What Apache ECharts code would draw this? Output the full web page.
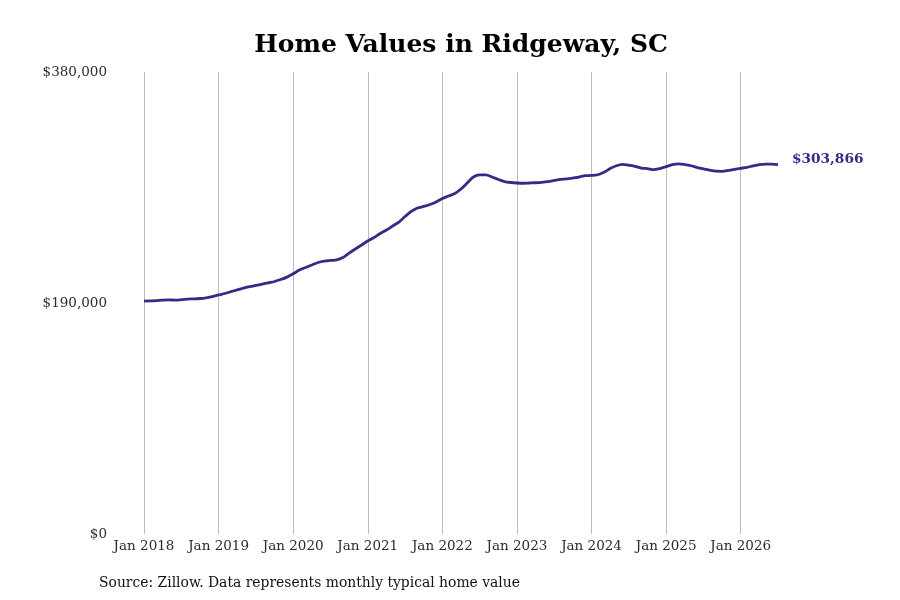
<!DOCTYPE html>
<html>
<head>
<meta charset="utf-8">
<script src="https://cdn.jsdelivr.net/npm/echarts@6/dist/echarts.min.js"></script>
<style>
html, body { margin: 0; padding: 0; background: #fff; }
#main { width: 900px; height: 600px; }
</style>
</head>
<body>
<div id="main"></div>
<script>
var chart = echarts.init(document.getElementById('main'));

// months Jan 2018 .. Jul 2026
var monthNames = ['Jan','Feb','Mar','Apr','May','Jun','Jul','Aug','Sep','Oct','Nov','Dec'];
var months = [];
for (var y = 2018; y <= 2026; y++) {
    for (var m = 0; m < 12; m++) {
        if (y === 2026 && m > 6) break;
        months.push(monthNames[m] + ' ' + y);
    }
}

// typical home value
var values = [
    // 2018
    191600, 191700, 192000, 192400, 192500, 192400, 192700, 193200, 193400, 193700, 194300, 195200,
    // 2019
    196600, 197800, 199300, 200800, 202200, 203400, 204500, 205500, 206600, 207700, 209300, 211300,
    // 2020
    214000, 217100, 219200, 221300, 223300, 224500, 225000, 225400, 227400, 231100, 234400, 237700,
    // 2021
    241000, 243900, 247200, 250000, 253300, 256600, 261100, 265300, 268100, 269400, 271000, 273100,
    // 2022
    276000, 278000, 280100, 283800, 288700, 293600, 295400, 295400, 293600, 291600, 289900, 289100,
    // 2023
    288700, 288500, 288700, 288900, 289300, 289900, 290800, 291700, 292100, 292800, 293600, 294700,
    // 2024
    294900, 295500, 297500, 300600, 302900, 304100, 303300, 302400, 301000, 300500, 299700, 300600,
    // 2025
    302100, 303800, 304500, 303900, 302900, 301400, 300400, 299200, 298400, 298300, 299000, 300000,
    // 2026
    300800, 301600, 302800, 303800, 304300, 304300, 303866
];

var yTicks = [0, 190000, 380000];
var fontFamily = '"DejaVu Serif", serif';

function money(v) {
    return '$' + v.toString().replace(/\B(?=(\d{3})+(?!\d))/g, ',');
}

var option = {
    backgroundColor: '#fff',
    animation: false,
    title: {
        text: 'Home Values in Ridgeway, SC',
        left: 456,
        textAlign: 'center',
        top: 28,
        textStyle: {
            fontFamily: fontFamily,
            fontWeight: 'bold',
            fontSize: 25,
            color: '#000'
        }
    },
    graphic: [{
        type: 'text',
        left: 99,
        top: 576,
        style: {
            text: 'Source: Zillow. Data represents monthly typical home value',
            font: '13.9px "DejaVu Serif", serif',
            fill: '#111'
        }
    }],
    grid: {
        left: 144,
        right: 122,
        top: 72,
        bottom: 66
    },
    xAxis: {
        type: 'category',
        boundaryGap: false,
        data: months,
        axisLine: { show: false },
        axisTick: { show: false },
        axisLabel: {
            interval: 11,
            color: '#2b2b2b',
            fontFamily: fontFamily,
            fontSize: 13.5,
            margin: 5
        },
        splitLine: {
            show: true,
            interval: 11,
            lineStyle: { color: '#bbb', width: 1 }
        }
    },
    yAxis: {
        type: 'value',
        min: yTicks[0],
        max: yTicks[2],
        interval: yTicks[1],
        axisLine: { show: false },
        axisTick: { show: false },
        splitLine: { show: false },
        axisLabel: {
            color: '#2b2b2b',
            fontFamily: fontFamily,
            fontSize: 13.5,
            margin: 37,
            formatter: function (v) { return money(v); }
        }
    },
    series: [{
        type: 'line',
        data: values,
        smooth: 0.3,
        symbol: 'none',
        lineStyle: { color: '#312c86', width: 2.8 },
        endLabel: {
            show: true,
            distance: 14,
            offset: [0, -5],
            formatter: function (p) { return money(p.value); },
            color: '#312c86',
            fontFamily: fontFamily,
            fontWeight: 'bold',
            fontSize: 13.7
        }
    }]
};

chart.setOption(option);
</script>
</body>
</html>
